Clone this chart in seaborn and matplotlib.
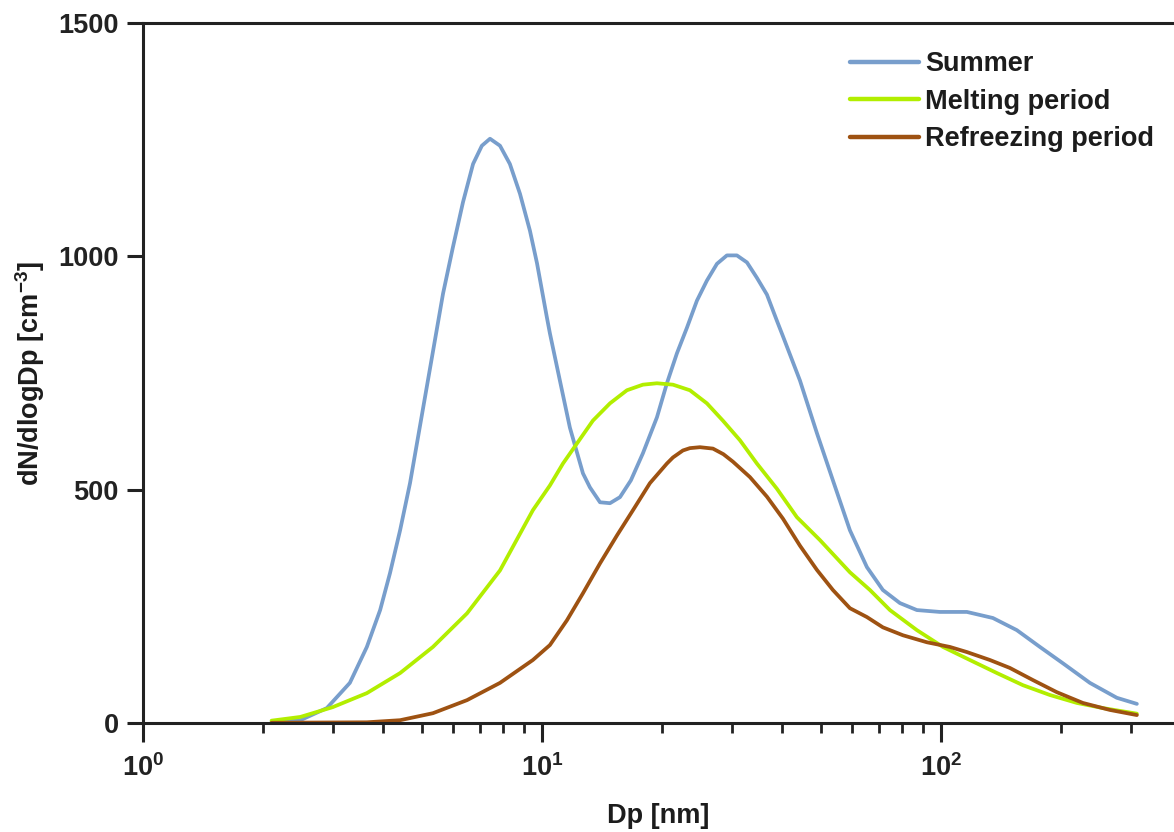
import numpy as np
import pandas as pd
import seaborn as sns
import matplotlib.pyplot as plt

# Dati (Dp in nm, dN/dlogDp in cm^-3)
dp_summer = [2.1, 2.48, 2.89, 3.3, 3.64, 3.93, 4.16, 4.41, 4.67, 4.95, 5.46, 5.65,
             5.98, 6.34, 6.72, 7.07, 7.41, 7.85, 8.31, 8.81, 9.33, 9.72, 10.29,
             10.47, 11.09, 11.75, 12.67, 13.19, 13.98, 14.81, 15.69, 16.71, 17.91,
             19.42, 20.57, 21.79, 23.09, 24.46, 25.91, 27.46, 29.08, 30.81, 32.65,
             34.58, 36.64, 38.81, 40.18, 44.33, 48.9, 53.62, 59.15, 65.25, 71.54,
             78.93, 87.07, 99.4, 116.2, 135.0, 155.0, 177.1, 202.2, 236.3, 276.1,
             309.9]
summer = [2, 6, 32, 86, 163, 242, 321, 413, 514, 638, 847, 920,
          1019, 1116, 1198, 1237, 1252, 1237, 1198, 1134, 1055, 985, 869,
          835, 734, 633, 535, 505, 473, 471, 484, 520, 578,
          655, 728, 792, 847, 905, 948, 984, 1002, 1002, 987,
          954, 918, 862, 829, 734, 621, 520, 413, 334, 285,
          257, 242, 238, 238, 225, 199, 163, 128, 86, 54,
          41]

dp_melting = [2.1, 2.48, 2.99, 3.64, 4.41, 5.33, 6.49, 7.85, 9.49, 10.47, 11.29,
              12.24, 13.42, 14.81, 16.33, 17.91, 19.42, 21.3, 23.49, 25.91, 28.41,
              31.35, 34.58, 38.81, 43.56, 49.75, 59.15, 66.4, 74.52, 87.07, 101.2,
              118.2, 138.2, 160.6, 187.6, 219.2, 254.7, 309.9]
melting = [5, 13, 34, 64, 107, 163, 235, 327, 456, 509, 556,
           599, 648, 685, 713, 725, 728, 725, 713, 685, 648,
           606, 556, 502, 441, 392, 323, 285, 242, 199, 163,
           135, 107, 81, 60, 43, 32, 20]

dp_refreezing = [2.1, 2.73, 3.64, 4.41, 5.33, 6.49, 7.85, 9.49, 10.47, 11.55, 12.67,
                 13.98, 15.42, 16.91, 18.65, 20.57, 21.3, 22.56, 23.49, 24.89, 26.83,
                 28.5, 30.11, 33.21, 36.64, 40.18, 44.33, 48.9, 53.62, 59.15, 65.25,
                 71.54, 80.33, 92.24, 105.3, 116.2, 132.7, 148.9, 170.1, 195.3, 226.9,
                 265.2, 309.9]
refreezing = [0.5, 1, 1.5, 6, 21, 49, 86, 135, 167, 220, 278,
              342, 402, 456, 514, 556, 569, 584, 589, 591, 588,
              576, 560, 527, 485, 438, 380, 328, 285, 246, 227,
              205, 188, 173, 163, 152, 135, 118, 92, 66, 43,
              28, 17]

labels = ['Summer', 'Melting period', 'Refreezing period']
colori = ['#789ECC', '#B2EE00', '#9E5212']

df = pd.concat([
    pd.DataFrame({'Dp': dp_summer, 'N': summer, 'periodo': labels[0]}),
    pd.DataFrame({'Dp': dp_melting, 'N': melting, 'periodo': labels[1]}),
    pd.DataFrame({'Dp': dp_refreezing, 'N': refreezing, 'periodo': labels[2]}),
])

sns.set_theme(style='white')
plt.rcParams['font.family'] = ['Liberation Sans', 'DejaVu Sans']
plt.rcParams['font.weight'] = 'bold'
plt.rcParams['mathtext.fontset'] = 'custom'
plt.rcParams['mathtext.rm'] = 'Liberation Sans:bold'
plt.rcParams['mathtext.bf'] = 'Liberation Sans:bold'
plt.rcParams['text.color'] = '#1c1c1c'
plt.rcParams['axes.labelcolor'] = '#1c1c1c'
plt.rcParams['xtick.color'] = '#222222'
plt.rcParams['ytick.color'] = '#222222'

fig = plt.figure(figsize=(11.74, 8.32), dpi=100)
ax = fig.add_axes([143 / 1174, 109 / 832, 1031 / 1174, 700 / 832])

sns.lineplot(data=df, x='Dp', y='N', hue='periodo', palette=colori,
             linewidth=2.7, ax=ax)
for l in ax.get_lines():
    l.set_solid_joinstyle('round')
    l.set_solid_capstyle('round')

ax.set_xscale('log')
ax.set_xlim(1, 384)
ax.set_ylim(0, 1500)
ax.set_yticks([0, 500, 1000, 1500])
ax.set_xticks([1, 10, 100])
ax.set_xticklabels([r'$\mathbf{10^{0}}$', r'$\mathbf{10^{1}}$', r'$\mathbf{10^{2}}$'])

# Assi e tacche
ax.spines['right'].set_visible(False)
for s in ['left', 'bottom', 'top']:
    ax.spines[s].set_linewidth(2.2)
    ax.spines[s].set_color('#222222')
ax.tick_params(axis='x', which='major', direction='out', length=13.5, width=2.2,
               color='#222222', labelsize=19.5, pad=9, bottom=True)
ax.tick_params(axis='x', which='minor', direction='out', length=7, width=2.0,
               color='#222222', bottom=True)
ax.tick_params(axis='y', which='major', direction='out', length=11.5, width=2.2,
               color='#222222', labelsize=19.5, pad=6, left=True)
for t in ax.get_yticklabels():
    t.set_fontweight('bold')

ax.set_xlabel('Dp [nm]', fontsize=19.5, fontweight='bold', labelpad=15)
ax.set_ylabel(r'dN/dlogDp [cm$^{\mathbf{-3}}$]', fontsize=19.5, fontweight='bold', labelpad=8)

leg = ax.legend(loc='upper left', bbox_to_anchor=(0.6857, 0.960), frameon=False,
                fontsize=19.5, handlelength=2.55, handletextpad=0.22, labelspacing=0.43,
                borderpad=0, borderaxespad=0)
for line in leg.get_lines():
    line.set_linewidth(3.2)
for t in leg.get_texts():
    t.set_fontweight('bold')

fig.savefig('out.png', dpi=100)
